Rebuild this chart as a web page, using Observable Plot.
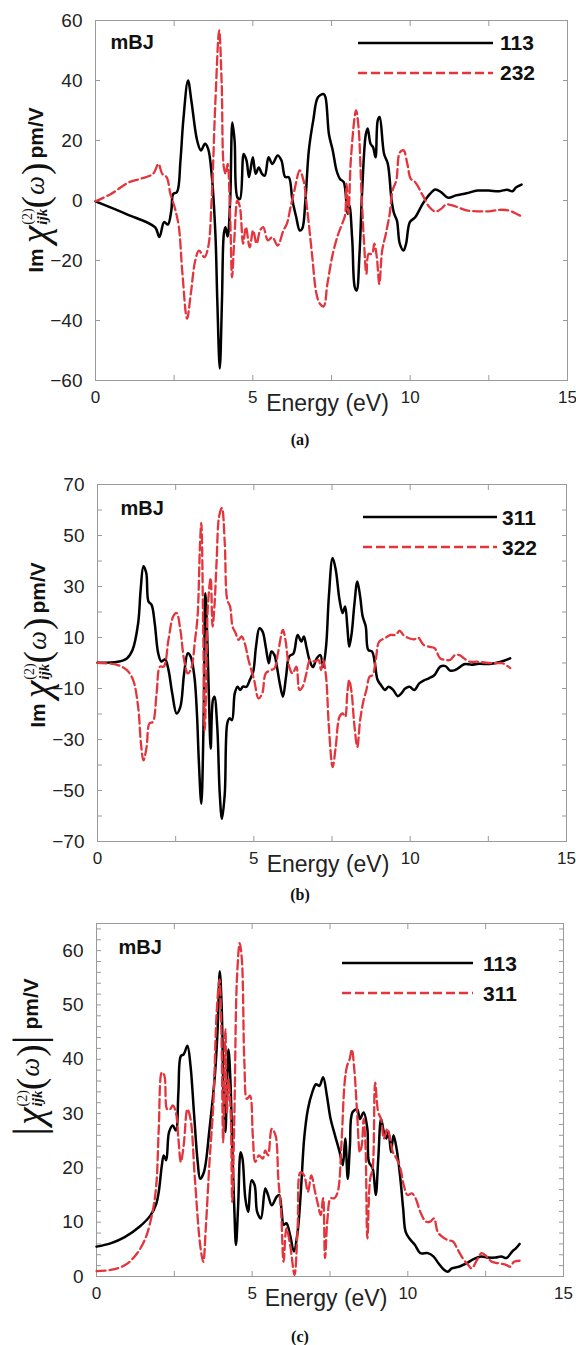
<!DOCTYPE html>
<html><head><meta charset="utf-8">
<script src="https://cdn.jsdelivr.net/npm/d3@7"></script>
<script src="https://cdn.jsdelivr.net/npm/@observablehq/plot@0.6"></script>
<style>
body{margin:0;background:#fff;}
#page{position:relative;width:576px;height:1345px;overflow:hidden;font-family:"Liberation Sans",Arial,Helvetica,sans-serif;background:#fff;}
.ylab{position:absolute;white-space:nowrap;transform:translate(-50%,-50%) rotate(-90deg);display:flex;align-items:center;color:#111;line-height:1;}
.ylab .sans{font-family:"Liberation Sans",Arial,sans-serif;font-weight:bold;font-size:21px;}
.ylab .chi{font-family:"Liberation Serif","Times New Roman",serif;font-style:italic;font-size:40px;margin-left:5px;}
.ylab .ss{display:inline-flex;flex-direction:column;font-family:"Liberation Serif","Times New Roman",serif;margin-left:1px;line-height:0.95;}
.ylab .sup{font-size:14px;}
.ylab .sub{font-size:15px;font-style:italic;font-weight:bold;}
.ylab .par{font-family:"Liberation Serif","Times New Roman",serif;font-size:37px;}
.ylab .om{font-family:"Liberation Serif","Times New Roman",serif;font-style:italic;font-size:27px;margin:0 1px;}
.ylab .bar{font-family:"Liberation Serif","Times New Roman",serif;font-size:44px;}
</style></head><body><div id="page"></div>
<script>
// ---------- data ----------
const xTicks = [0, 2.5, 5, 7.5, 10, 12.5, 15];
const xLabels = [0, 5, 10, 15];

const aYLabels = [-60, -40, -20, 0, 20, 40, 60];
const aYTicks = [-60, -40, -20, 0, 20, 40, 60];
const bYLabels = [-70, -50, -30, -10, 10, 30, 50, 70];
const bYTicks = [-70, -60, -50, -40, -30, -20, -10, 0, 10, 20, 30, 40, 50, 60, 70];
const cYLabels = [0, 10, 20, 30, 40, 50, 60];
const cYTicks = d3.range(0, 65, 2);

const aSeries = ["113", "232"];
const bSeries = ["311", "322"];
const cSeries = ["113", "311"];

// panel (a) Im chi 113
const a113 = [[0,-0.3],[1.0,-4.6],[1.89,-8.9],[2.03,-12.2],[2.18,-7.2],[2.30,-8],[2.41,-3.3],[2.47,2.2],[2.59,2.8],[2.70,13.3],[2.79,26.7],[2.94,40],[3.05,33],[3.23,20],[3.35,16.7],[3.48,18.9],[3.58,17.2],[3.69,8.9],[3.81,-11],[3.87,-33],[3.95,-56],[4.02,-33],[4.08,-11],[4.13,-8.9],[4.20,-12],[4.28,0],[4.35,26],[4.42,20],[4.51,1],[4.59,0.5],[4.71,15.5],[4.80,13.3],[4.88,7.8],[5.00,14.4],[5.09,8.9],[5.19,11],[5.29,8.9],[5.38,8.3],[5.50,14.4],[5.62,12.2],[5.79,15],[5.91,13.3],[6.03,7.8],[6.14,7.8],[6.26,0],[6.38,-5.6],[6.49,-10],[6.57,-9.4],[6.67,0],[6.78,16.7],[6.92,26.7],[7.07,34.4],[7.25,35.5],[7.31,34.4],[7.42,22],[7.54,16.7],[7.66,10],[7.77,7.2],[7.89,6.1],[8.01,-4.4],[8.07,-1.7],[8.16,-13.3],[8.24,-28.9],[8.30,-30],[8.39,-17.8],[8.47,2.2],[8.59,22],[8.65,24],[8.74,18.9],[8.82,17.8],[8.90,14.4],[8.97,26.7],[9.03,27.8],[9.17,15.6],[9.29,12.2],[9.41,0],[9.49,-4.4],[9.58,-6.7],[9.67,-14.4],[9.79,-16.7],[9.87,-14.4],[9.99,-7.2],[10.16,-5.6],[10.40,-1.1],[10.63,2.2],[10.80,3.7],[10.98,2.8],[11.21,0.9],[11.45,1.7],[11.79,2.4],[12.14,3.3],[12.49,3.3],[12.84,3.1],[13.08,3.6],[13.25,3.1],[13.37,4.4],[13.54,5.3]];
// panel (a) Im chi 232
const a232 = [[0,-0.3],[0.49,2.2],[1.07,6.1],[1.42,7.2],[1.83,8.9],[2.00,12.2],[2.12,8.9],[2.26,7.8],[2.38,2.2],[2.53,-2.8],[2.65,-8.9],[2.76,-24],[2.91,-39.4],[3.03,-31],[3.17,-20],[3.29,-16.7],[3.46,-18.9],[3.58,-15.6],[3.69,0],[3.81,33],[3.93,56.7],[4.01,39],[4.08,11],[4.14,8.9],[4.20,12.2],[4.28,-5.6],[4.34,-25.6],[4.41,-13.3],[4.51,0],[4.59,-2.2],[4.69,-14.4],[4.78,-8.9],[4.90,-15.6],[5.01,-10],[5.12,-14.4],[5.23,-10],[5.33,-8.9],[5.48,-13.3],[5.62,-12.2],[5.79,-15],[5.97,-10],[6.08,-7.8],[6.20,-2.2],[6.32,3.3],[6.49,10],[6.61,6.7],[6.72,-2.2],[6.88,-17.8],[7.02,-31],[7.13,-34.4],[7.25,-35.3],[7.37,-27.8],[7.54,-17.8],[7.72,-11],[7.86,-7.2],[7.93,-5],[7.98,5.6],[8.04,-4.4],[8.12,14.4],[8.28,30],[8.36,24.4],[8.45,3.3],[8.53,-13.3],[8.61,-24.4],[8.68,-17.8],[8.79,-17.8],[8.86,-14.4],[8.94,-18.9],[9.02,-27.8],[9.11,-16.7],[9.23,-11],[9.35,-4.4],[9.44,3.3],[9.56,6.7],[9.67,16],[9.79,16.7],[9.91,12.2],[10.02,7.2],[10.16,6.1],[10.40,1.7],[10.61,-2.2],[10.80,-3.7],[10.98,-2.8],[11.15,-1.3],[11.45,-2],[11.79,-3.3],[12.14,-3.6],[12.49,-3.6],[12.84,-3.1],[13.13,-3.3],[13.37,-4.4],[13.54,-5.3]];

// panel (b) Im chi 311
const b311 = [[0,0.1],[0.65,0.5],[0.94,1.8],[1.12,5.1],[1.30,15.6],[1.38,28.7],[1.47,37.9],[1.56,35.3],[1.63,24.1],[1.73,22.8],[1.83,15.6],[1.94,3.9],[2.04,0.6],[2.16,1.5],[2.27,-2.7],[2.39,-11.9],[2.53,-19.8],[2.65,-17.2],[2.77,-4.1],[2.89,3.8],[2.98,2.5],[3.10,-5.4],[3.18,-19.8],[3.24,-38.2],[3.32,-55.2],[3.39,-25],[3.45,27.4],[3.51,10.4],[3.56,-11.9],[3.62,-33.6],[3.69,-14.6],[3.74,-13.2],[3.83,-25],[3.91,-51.3],[3.98,-61.1],[4.07,-51.3],[4.15,-23.7],[4.22,-21.7],[4.30,-22.4],[4.39,-11.9],[4.48,-9.3],[4.56,-10.6],[4.65,-9.3],[4.77,-9.3],[4.87,-6.7],[4.98,-3.4],[5.07,6.4],[5.18,13.6],[5.28,12.3],[5.38,6.4],[5.48,-0.1],[5.56,4.5],[5.66,3.1],[5.74,-1.6],[5.83,-8],[5.93,-13.2],[6.03,-5.4],[6.13,2.5],[6.27,3.8],[6.40,11],[6.52,8.4],[6.60,10.4],[6.68,6.4],[6.78,1.2],[6.89,-1.6],[7.01,1.8],[7.13,3.1],[7.21,-1.6],[7.31,6.4],[7.40,26.1],[7.52,41.2],[7.62,36.6],[7.74,24.8],[7.84,19.6],[7.92,22.2],[7.99,14.3],[8.05,6.4],[8.13,11.7],[8.21,22.2],[8.31,32],[8.40,26.1],[8.48,18.3],[8.58,14.3],[8.66,5.1],[8.78,4.5],[8.87,-0.1],[8.96,-6.7],[9.07,-8.7],[9.19,-10.6],[9.31,-9.3],[9.46,-10.6],[9.60,-13],[9.72,-11.9],[9.84,-10],[9.98,-9.3],[10.13,-10.6],[10.29,-8],[10.43,-6.9],[10.60,-6],[10.78,-4.7],[10.96,-1.4],[11.13,-1.2],[11.28,-3.0],[11.43,-2.8],[11.61,-1.4],[11.75,-0.4],[11.96,-0.7],[12.20,-0.3],[12.55,-0.4],[12.90,0.5],[13.20,1.8]];
// panel (b) Im chi 322
const b322 = [[0,0.1],[0.65,-0.8],[0.94,-2.8],[1.14,-6.7],[1.30,-17.2],[1.39,-31.6],[1.47,-38.2],[1.57,-33],[1.66,-23.7],[1.77,-23.1],[1.89,-11.9],[2.00,-1.4],[2.12,-1.4],[2.27,9.1],[2.42,18.2],[2.53,19.6],[2.65,13],[2.77,1.2],[2.89,-4.1],[3.00,-2],[3.12,9.1],[3.20,18.2],[3.28,47],[3.32,54.9],[3.38,14.3],[3.43,-26.4],[3.48,-5.4],[3.53,22.2],[3.62,33.3],[3.68,14.3],[3.74,22.2],[3.81,40],[3.89,57.5],[3.98,60.8],[4.07,47],[4.15,24.8],[4.24,22.2],[4.32,14.3],[4.42,11.7],[4.51,9.1],[4.61,10.4],[4.71,7.7],[4.83,1.2],[5.01,-6.7],[5.15,-13.9],[5.27,-11.9],[5.38,-4.1],[5.54,-2.8],[5.66,-2.1],[5.77,3.8],[5.93,13],[6.01,9.1],[6.13,-1.4],[6.24,-4.1],[6.36,-1.4],[6.46,-10.6],[6.56,-9.3],[6.68,-4.1],[6.80,1.2],[6.95,0.6],[7.07,1.2],[7.15,-2.8],[7.22,1.2],[7.31,-5.4],[7.40,-25],[7.52,-40.8],[7.62,-32.9],[7.74,-21.1],[7.84,-19.8],[7.92,-21.1],[7.99,-11.9],[8.05,-6.7],[8.13,-11.9],[8.21,-23.7],[8.31,-32.9],[8.40,-22.4],[8.51,-14.6],[8.60,-10.6],[8.70,-5.4],[8.80,-4.7],[8.90,1.2],[9.01,8.4],[9.19,9.7],[9.37,11],[9.54,11],[9.66,12.7],[9.78,11],[9.96,9.7],[10.13,9.3],[10.25,10],[10.43,7.1],[10.60,6.4],[10.78,5.8],[10.96,1.8],[11.13,1.2],[11.28,1.2],[11.43,3.1],[11.58,3.1],[11.72,1.8],[11.90,0.5],[12.14,0.5],[12.43,0.1],[12.73,-0.1],[12.96,-0.1],[13.20,-2]];

// panel (c) |chi| 113
const c113 = [[0,5.5],[0.45,6.1],[0.92,7.3],[1.39,9.2],[1.74,11.3],[1.92,13.4],[2.00,15.6],[2.10,20.5],[2.16,22.3],[2.24,21.4],[2.33,26.6],[2.45,27.8],[2.55,26.9],[2.63,33.9],[2.71,40.6],[2.80,40.9],[2.92,42.5],[3.02,38.8],[3.13,30.2],[3.25,21.1],[3.33,18],[3.45,19.2],[3.63,27.2],[3.81,37.6],[3.89,45.5],[3.96,56.2],[4.02,49.8],[4.08,33.9],[4.14,26.6],[4.19,35.1],[4.24,41.8],[4.30,36.3],[4.36,24.1],[4.43,11.9],[4.48,5.8],[4.55,13.1],[4.63,22.9],[4.69,21.7],[4.78,14.4],[4.87,11.9],[4.98,17.7],[5.08,16.8],[5.16,11.9],[5.28,10.7],[5.42,16.2],[5.51,15],[5.63,13.1],[5.79,14.7],[5.87,15],[5.95,11.9],[6.01,9.5],[6.10,9.8],[6.22,7.6],[6.34,4.6],[6.46,8.2],[6.57,16.2],[6.67,25.4],[6.79,30.8],[6.93,33.9],[7.05,35.4],[7.16,35.1],[7.28,36.7],[7.40,33.3],[7.52,29],[7.66,26],[7.81,22.9],[7.91,20.5],[7.99,25.4],[8.07,18],[8.14,24.1],[8.22,30.2],[8.37,30.8],[8.46,29],[8.58,30.2],[8.70,27.2],[8.75,21.1],[8.87,19.9],[8.97,15],[9.05,21.7],[9.14,29],[9.23,26.6],[9.31,25.4],[9.38,26.6],[9.46,22.9],[9.54,26],[9.64,23.5],[9.76,18],[9.85,12.5],[9.93,8.2],[10.05,7],[10.23,5.8],[10.40,4.3],[10.64,4.3],[10.82,3.7],[10.99,2.4],[11.17,1.2],[11.29,0.9],[11.41,1.5],[11.64,1.8],[11.88,2.4],[12.11,3.2],[12.35,3.7],[12.58,3.5],[12.82,3.5],[13.00,3.7],[13.17,3.4],[13.35,4.6],[13.47,5.2],[13.59,6]];
// panel (c) |chi| 311
const c311 = [[0,1],[0.45,1.2],[0.92,2.1],[1.27,4],[1.57,7],[1.80,11.9],[1.92,16.8],[2.00,27.2],[2.10,37.6],[2.18,37],[2.27,30.8],[2.36,30.8],[2.45,31.5],[2.55,30.2],[2.63,25.4],[2.71,21.1],[2.80,24.1],[2.92,30.8],[3.02,29],[3.16,18],[3.33,5.8],[3.43,2.7],[3.51,8.9],[3.63,21.1],[3.75,31.5],[3.86,48.6],[3.95,54.7],[4.01,45.5],[4.07,24.7],[4.14,45.5],[4.19,30.2],[4.24,36.3],[4.31,30.2],[4.36,13.7],[4.43,30.2],[4.51,54.7],[4.60,61.4],[4.67,58.3],[4.75,39.4],[4.83,32.7],[4.93,33.3],[5.02,26],[5.10,21.1],[5.22,22.3],[5.34,21.7],[5.42,23.2],[5.51,22.3],[5.63,27.2],[5.75,26],[5.84,18],[5.93,11.9],[6.01,2.7],[6.10,8.9],[6.22,5.8],[6.36,0.3],[6.46,8.9],[6.55,19.2],[6.67,18.6],[6.79,15.6],[6.90,18.6],[7.02,15.6],[7.12,13.1],[7.20,11.3],[7.28,14.4],[7.34,3.4],[7.42,10.7],[7.52,14.4],[7.64,14.4],[7.75,15.6],[7.87,24.7],[7.97,35.7],[8.05,38.8],[8.13,40],[8.20,41.8],[8.28,38.2],[8.37,30.2],[8.46,22.9],[8.52,24.1],[8.58,29],[8.64,24.1],[8.70,7],[8.79,18],[8.87,19.9],[8.95,35.7],[9.05,30.2],[9.14,29],[9.23,25.4],[9.34,27.2],[9.43,25.4],[9.52,22.9],[9.64,21.7],[9.76,19.9],[9.87,16.8],[9.99,15],[10.13,15.3],[10.25,14.4],[10.40,11.9],[10.58,10.1],[10.72,10.1],[10.84,10.7],[10.96,8.2],[11.11,7.3],[11.29,6.7],[11.46,6.4],[11.58,5.2],[11.76,3.4],[11.94,2.1],[12.05,1.5],[12.23,3.1],[12.37,4.3],[12.53,3.7],[12.70,2.7],[12.94,2.4],[13.17,2.1],[13.29,1.8],[13.41,2.7],[13.59,2.9]];

// ---------- drawing ----------
const RED = "#e4343c";
const FONT = '"Liberation Sans", Arial, Helvetica, sans-serif';
const FRAME = "#9a9a9a";
const DASH = "9,4";
const page = document.getElementById("page");

function makePanel(cfg) {
  const svg = Plot.plot({
    width: 576,
    height: cfg.height,
    marginTop: 20,
    marginBottom: cfg.height - 20 - cfg.frameH,
    marginLeft: cfg.mL,
    marginRight: cfg.mR,
    style: {fontFamily: FONT, background: "transparent", overflow: "visible"},
    x: {domain: [0, 15]},
    y: {domain: cfg.yDomain},
    marks: [
      Plot.frame({stroke: FRAME, strokeWidth: 1}),
      Plot.axisX(xTicks, {anchor: "bottom", tickSize: -5, fill: "none", stroke: FRAME, label: null}),
      Plot.axisX(xTicks, {anchor: "top", tickSize: -5, fill: "none", stroke: FRAME, label: null}),
      Plot.axisY(cfg.yTicks, {anchor: "left", tickSize: -5, fill: "none", stroke: FRAME, label: null}),
      Plot.axisY(cfg.yTicks, {anchor: "right", tickSize: -5, fill: "none", stroke: FRAME, label: null}),
      Plot.axisX(xLabels, {anchor: "bottom", tickSize: 0, tickPadding: 10, fontSize: 17, fill: "#222", label: null}),
      Plot.axisY(cfg.yLabels, {anchor: "left", tickSize: 0, tickPadding: 13, fontSize: 19, fill: "#222", label: null}),
      Plot.line(cfg.black, {x: d => d[0], y: d => d[1], stroke: "#000", strokeWidth: 2.5, curve: "catmull-rom"}),
      Plot.line(cfg.red, {x: d => d[0], y: d => d[1], stroke: RED, strokeWidth: 2.3, strokeDasharray: DASH, curve: "catmull-rom"}),
      Plot.text(["mBJ"], {text: d => d, frameAnchor: "top-left", dx: cfg.mbjDx, dy: cfg.mbjDy, lineAnchor: "bottom", textAnchor: "start", fontSize: 20, fontWeight: "bold", fill: "#111"}),
      Plot.text(["Energy (eV)"], {text: d => d, frameAnchor: "bottom", dx: -4, dy: cfg.eDy, lineAnchor: "bottom", fontSize: 23, fill: "#222"})
    ]
  });
  svg.style.position = "absolute";
  svg.style.left = "0px";
  svg.style.top = cfg.top + "px";
  page.appendChild(svg);
}

makePanel({top: 0, height: 425, frameH: 360, mL: 95, mR: 9, yDomain: [-60, 60], yTicks: aYTicks, yLabels: aYLabels, black: a113, red: a232, mbjDx: 15, mbjDy: 28, eDy: 30});
makePanel({top: 464, height: 422, frameH: 357, mL: 97, mR: 10, yDomain: [-70, 70], yTicks: bYTicks, yLabels: bYLabels, black: b311, red: b322, mbjDx: 23, mbjDy: 30, eDy: 30});
makePanel({top: 903, height: 418, frameH: 353, mL: 96, mR: 13, yDomain: [0, 65], yTicks: cYTicks, yLabels: cYLabels, black: c113, red: c311, mbjDx: 22, mbjDy: 30, eDy: 29});

// y-axis titles (HTML for sub/superscripts)
const imLabel = '<span class="sans">Im</span><span class="chi">χ</span><span class="ss"><span class="sup">(2)</span><span class="sub">ijk</span></span><span class="par">(</span><span class="om">ω</span><span class="par">)</span><span class="sans" style="margin-left:4px">pm/V</span>';
const absLabel = '<span class="bar">|</span><span class="chi" style="margin-left:2px">χ</span><span class="ss"><span class="sup">(2)</span><span class="sub">ijk</span></span><span class="par">(</span><span class="om">ω</span><span class="par">)</span><span class="bar">|</span><span class="sans" style="margin-left:6px">pm/V</span>';
[[35, 190, imLabel], [37, 645, imLabel], [30, 1057, absLabel]].forEach(([x, y, html]) => {
  const d = document.createElement("div");
  d.className = "ylab";
  d.style.left = x + "px";
  d.style.top = y + "px";
  d.innerHTML = html;
  page.appendChild(d);
});

// legends and captions
const ov = d3.select(page).append("svg")
  .attr("width", 576).attr("height", 1345)
  .style("position", "absolute").style("left", 0).style("top", 0)
  .style("pointer-events", "none");
const legends = [
  {x1: 358, x2: 493, lx: 500, rows: [[43, 50], [73, 80]], names: aSeries},
  {x1: 363, x2: 497, lx: 502, rows: [[517, 525], [547, 555]], names: bSeries},
  {x1: 342, x2: 473, lx: 483, rows: [[963, 971], [993, 1001]], names: cSeries}
];
legends.forEach(L => {
  L.rows.forEach(([ly, ty], i) => {
    ov.append("line").attr("x1", L.x1).attr("x2", L.x2).attr("y1", ly).attr("y2", ly)
      .attr("stroke", i === 0 ? "#000" : RED).attr("stroke-width", i === 0 ? 2.5 : 2.3)
      .attr("stroke-dasharray", i === 0 ? null : DASH);
    ov.append("text").attr("x", L.lx).attr("y", ty).text(L.names[i])
      .attr("font-family", FONT).attr("font-weight", "bold").attr("font-size", 21).attr("fill", "#111");
  });
});
[["(a)", 445], ["(b)", 900], ["(c)", 1342]].forEach(([t, y]) => {
  ov.append("text").attr("x", 300).attr("y", y).attr("text-anchor", "middle").text(t)
    .attr("font-family", '"Liberation Serif","Times New Roman",serif').attr("font-weight", "bold")
    .attr("font-size", 16).attr("fill", "#111");
});
</script></body></html>
